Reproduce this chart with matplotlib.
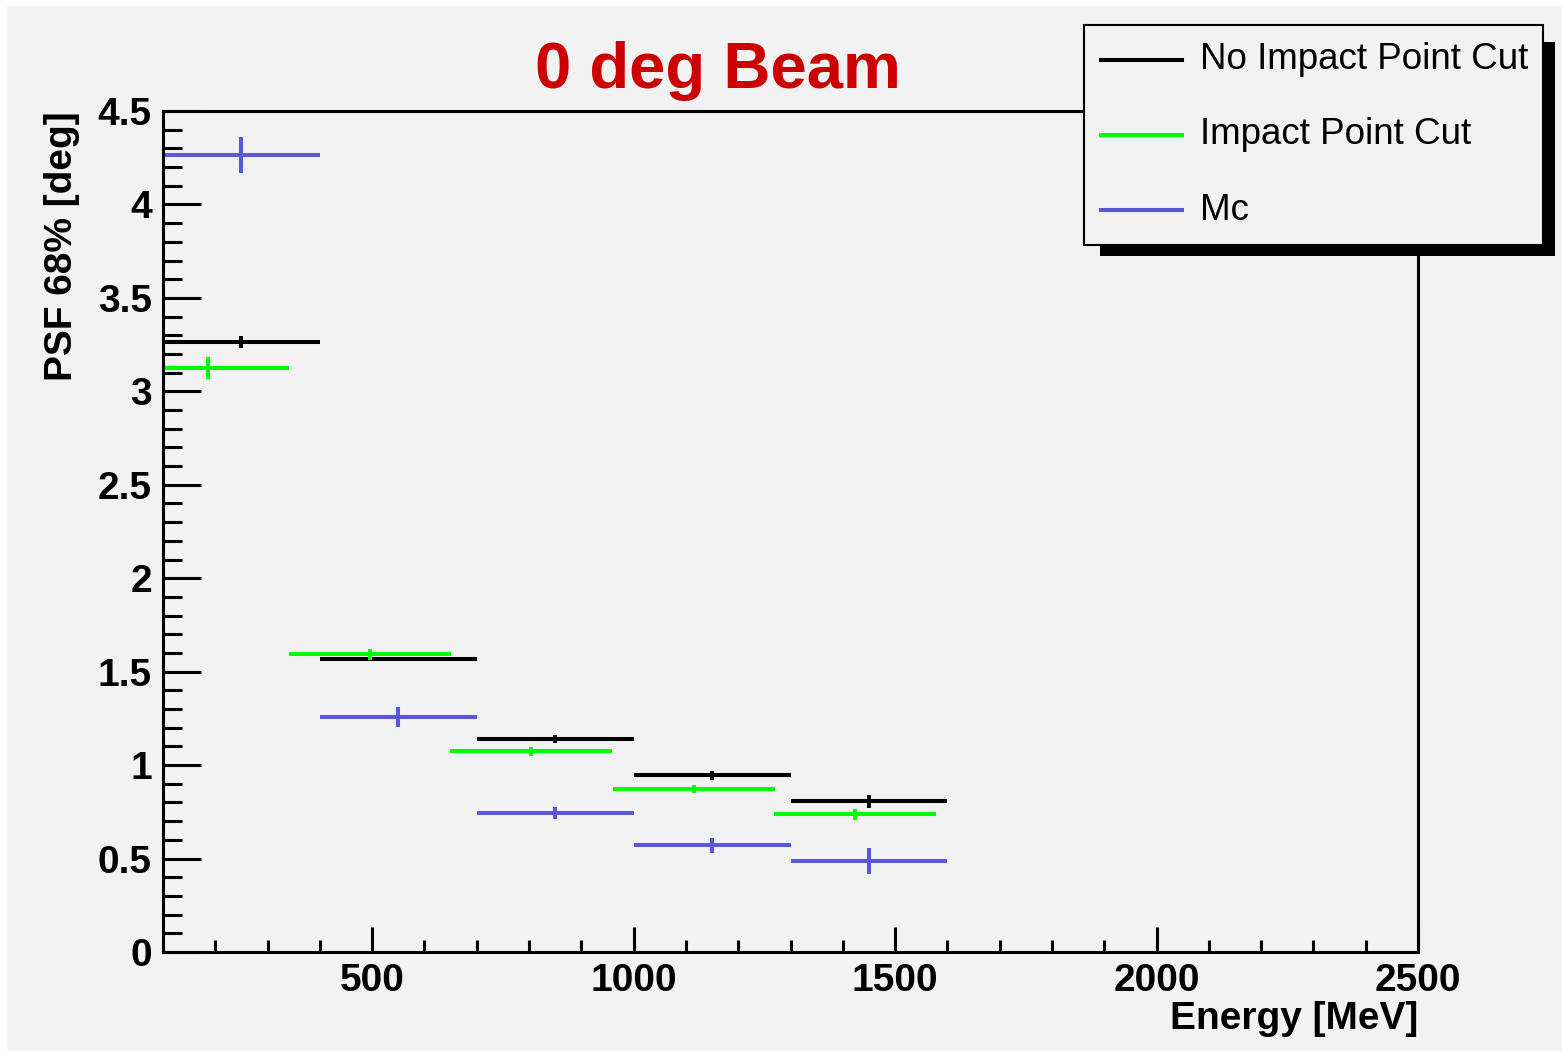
import matplotlib.pyplot as plt
from matplotlib.patches import Rectangle
from matplotlib.lines import Line2D
from matplotlib.ticker import MultipleLocator

# energy bins [MeV]
bin_centers = [250, 550, 850, 1150, 1450]
bin_half = [150, 150, 150, 150, 150]
cut_energy = [186, 495, 804, 1115, 1423]
cut_half = [155, 155, 155, 155, 155]

# PSF 68% containment [deg]
nocut_psf = [3.264, 1.568, 1.140, 0.945, 0.806]
nocut_err = [0.031, 0.010, 0.020, 0.023, 0.036]
cut_psf = [3.125, 1.593, 1.074, 0.874, 0.737]
cut_err = [0.058, 0.028, 0.023, 0.022, 0.029]
mc_psf = [4.264, 1.257, 0.745, 0.571, 0.487]
mc_err = [0.098, 0.054, 0.033, 0.040, 0.070]

labels = ['No Impact Point Cut', 'Impact Point Cut', 'Mc']
colors = ['#000000', '#00ff00', '#5b57d9']

W, H = 1562, 1053
BG = '#f2f2f2'
FONT = 'Liberation Sans'


def fx(px):
    return px / W


def fy(py):
    return 1 - py / H


def main():
    fig = plt.figure(figsize=(W / 100, H / 100), dpi=100, facecolor='white')
    fig.patches.append(Rectangle((fx(7), fy(1051)), 1 - fx(7), fy(6) - fy(1051),
                                 transform=fig.transFigure,
                                 facecolor=BG, edgecolor='none', zorder=-10))

    ax = fig.add_axes([fx(163), fy(952), fx(1418) - fx(163), fy(111) - fy(952)])
    ax.set_facecolor(BG)

    series = [
        (bin_centers, bin_half, nocut_psf, nocut_err),
        (cut_energy, cut_half, cut_psf, cut_err),
        (bin_centers, bin_half, mc_psf, mc_err),
    ]
    for (x, xe, y, ye), c in zip(series, colors):
        ax.errorbar(x, y, xerr=xe, yerr=ye, fmt='none', ecolor=c,
                    elinewidth=2.9, capsize=0)

    ax.set_xlim(100, 2500)
    ax.set_ylim(0, 4.5)
    ax.xaxis.set_major_locator(MultipleLocator(500))
    ax.xaxis.set_minor_locator(MultipleLocator(100))
    ax.yaxis.set_major_locator(MultipleLocator(0.5))
    ax.yaxis.set_minor_locator(MultipleLocator(0.1))
    ax.xaxis.set_major_formatter(plt.FuncFormatter(lambda v, p: '%d' % v))
    ax.yaxis.set_major_formatter(plt.FuncFormatter(lambda v, p: '%g' % v))

    for s in ax.spines.values():
        s.set_linewidth(2.2)
    ax.tick_params(which='both', direction='in', top=False, right=False, width=2.2)
    ax.tick_params(axis='y', which='major', length=27, pad=8)
    ax.tick_params(axis='y', which='minor', length=13.5)
    ax.tick_params(axis='x', which='major', length=18, pad=8)
    ax.tick_params(axis='x', which='minor', length=9)
    for lab in ax.get_xticklabels() + ax.get_yticklabels():
        lab.set_fontfamily(FONT)
        lab.set_fontweight('bold')
        lab.set_fontsize(28)

    fig.text(fx(1418), fy(1029), 'Energy [MeV]', ha='right', va='baseline',
             fontsize=28, fontweight='bold', family=FONT)
    fig.text(fx(62), fy(111), 'PSF 68% [deg]', rotation=90, ha='center', va='top',
             fontsize=28, fontweight='bold', family=FONT)

    fig.text(fx(718), fy(88), '0 deg Beam', ha='center', va='baseline',
             fontsize=47, fontweight='bold', color='#cc0000', family=FONT)

    # legend box with shadow
    fig.patches.append(Rectangle((fx(1100), fy(256)), fx(1555) - fx(1100), fy(42) - fy(256),
                                 transform=fig.transFigure, facecolor='black',
                                 edgecolor='none', zorder=5))
    fig.patches.append(Rectangle((fx(1084), fy(245)), fx(1543) - fx(1084), fy(25) - fy(245),
                                 transform=fig.transFigure, facecolor=BG,
                                 edgecolor='black', linewidth=1.5, zorder=6))
    for i, (lab, c) in enumerate(zip(labels, colors)):
        yy = 60 + i * 75
        fig.lines.append(Line2D([fx(1101), fx(1182)], [fy(yy), fy(yy)],
                                transform=fig.transFigure, color=c, linewidth=2.9, zorder=7))
        fig.text(fx(1200), fy(yy), lab, ha='left', va='center', fontsize=26.5,
                 family=FONT, zorder=8)

    fig.savefig('out.png', dpi=100, facecolor='white')


if __name__ == '__main__':
    main()
